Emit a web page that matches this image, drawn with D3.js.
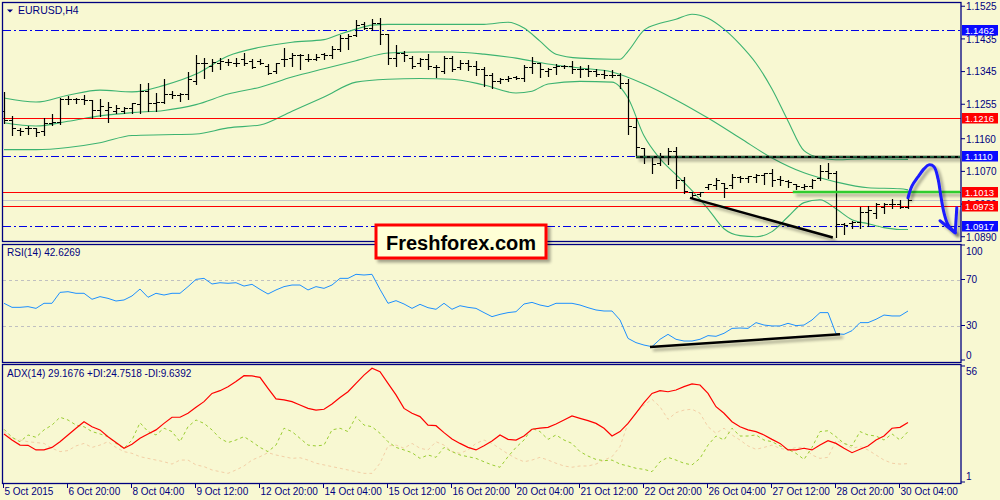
<!DOCTYPE html>
<html>
<head>
<meta charset="utf-8">
<script src="https://cdn.jsdelivr.net/npm/d3@7"></script>
<style>
  body { margin: 0; background: #f8f8d2; }
  svg { display: block; font-family: "Liberation Sans", Arial, sans-serif; }
</style>
</head>
<body>
<svg id="chart" width="1000" height="500"></svg>
<script>
// ---- EURUSD H4 bars (bar 0 = 5 Oct 12:00, one bar per 4 hours) ----
const open = [1.1236,1.1211,1.1184,1.1187,1.1187,1.1181,1.1203,1.1206,1.1269,1.1267,
  1.1269,1.1264,1.1239,1.1239,1.1236,1.1236,1.1242,1.1253,1.1291,1.1256,
  1.1261,1.1283,1.1280,1.1283,1.1319,1.1366,1.1360,1.1368,1.1371,1.1368,
  1.1379,1.1374,1.1374,1.1360,1.1344,1.1379,1.1382,1.1388,1.1379,1.1377,
  1.1393,1.1388,1.1407,1.1437,1.1445,1.1475,1.1465,1.1478,1.1448,1.1382,
  1.1396,1.1382,1.1366,1.1379,1.1355,1.1346,1.1382,1.1355,1.1368,1.1360,
  1.1352,1.1333,1.1319,1.1324,1.1330,1.1327,1.1355,1.1366,1.1346,1.1355,
  1.1360,1.1360,1.1352,1.1352,1.1346,1.1338,1.1335,1.1333,1.1311,1.1192,
  1.1132,1.1107,1.1091,1.1107,1.1126,1.1044,1.1011,1.1006,1.1025,1.1030,
  1.1036,1.1030,1.1052,1.1050,1.1052,1.1058,1.1063,1.1047,1.1041,1.1033,
  1.1025,1.1028,1.1050,1.1071,1.1063,1.0923,1.0926,1.0928,1.0956,1.0953,
  1.0970,1.0980,1.0980,1.0970];
const high = [1.1289,1.1223,1.1189,1.1195,1.1189,1.1217,1.1228,1.1272,1.1278,1.1272,
  1.1280,1.1267,1.1269,1.1261,1.1253,1.1247,1.1258,1.1311,1.1313,1.1286,
  1.1324,1.1291,1.1286,1.1344,1.1390,1.1382,1.1379,1.1382,1.1379,1.1382,
  1.1396,1.1379,1.1379,1.1366,1.1368,1.1410,1.1396,1.1393,1.1393,1.1393,
  1.1396,1.1415,1.1445,1.1448,1.1486,1.1481,1.1489,1.1492,1.1448,1.1418,
  1.1401,1.1388,1.1382,1.1393,1.1363,1.1388,1.1388,1.1377,1.1377,1.1374,
  1.1357,1.1341,1.1327,1.1333,1.1333,1.1363,1.1385,1.1368,1.1355,1.1366,
  1.1363,1.1374,1.1360,1.1363,1.1352,1.1349,1.1349,1.1341,1.1324,1.1217,
  1.1135,1.1107,1.1121,1.1135,1.1137,1.1055,1.1014,1.1014,1.1036,1.1052,
  1.1039,1.1063,1.1058,1.1058,1.1063,1.1066,1.1077,1.1058,1.1047,1.1036,
  1.1036,1.1050,1.1088,1.1093,1.1071,1.0928,1.0934,1.0972,1.0975,1.0983,
  1.0983,1.0994,1.0991,1.1011];
const low = [1.1203,1.1170,1.1170,1.1173,1.1167,1.1170,1.1198,1.1200,1.1256,1.1258,
  1.1256,1.1217,1.1223,1.1206,1.1231,1.1231,1.1231,1.1231,1.1236,1.1236,
  1.1258,1.1272,1.1264,1.1269,1.1311,1.1327,1.1346,1.1352,1.1363,1.1360,
  1.1363,1.1355,1.1366,1.1338,1.1341,1.1360,1.1360,1.1352,1.1374,1.1377,
  1.1379,1.1382,1.1401,1.1407,1.1442,1.1462,1.1459,1.1420,1.1366,1.1360,
  1.1374,1.1355,1.1360,1.1352,1.1330,1.1341,1.1346,1.1352,1.1349,1.1335,
  1.1305,1.1300,1.1313,1.1319,1.1324,1.1319,1.1341,1.1330,1.1333,1.1338,
  1.1355,1.1341,1.1330,1.1333,1.1333,1.1327,1.1330,1.1300,1.1173,1.1113,
  1.1093,1.1066,1.1088,1.1091,1.1025,1.1011,1.0997,1.1003,1.1022,1.1022,
  1.1000,1.1025,1.1041,1.1041,1.1041,1.1036,1.1030,1.1033,1.1028,1.1022,
  1.1022,1.1025,1.1047,1.1052,1.0890,1.0898,1.0915,1.0915,1.0920,1.0942,
  1.0956,1.0970,1.0970,1.0970];
const close = [1.1209,1.1187,1.1181,1.1189,1.1178,1.1203,1.1206,1.1269,1.1267,1.1269,
  1.1264,1.1239,1.1250,1.1247,1.1242,1.1242,1.1256,1.1291,1.1256,1.1261,
  1.1283,1.1280,1.1283,1.1322,1.1366,1.1368,1.1371,1.1374,1.1371,1.1368,
  1.1366,1.1357,1.1366,1.1341,1.1366,1.1377,1.1388,1.1390,1.1377,1.1385,
  1.1388,1.1407,1.1437,1.1442,1.1473,1.1465,1.1478,1.1448,1.1382,1.1396,
  1.1388,1.1360,1.1379,1.1360,1.1357,1.1382,1.1352,1.1368,1.1360,1.1352,
  1.1333,1.1319,1.1324,1.1327,1.1327,1.1355,1.1368,1.1352,1.1352,1.1360,
  1.1360,1.1352,1.1352,1.1344,1.1338,1.1333,1.1335,1.1311,1.1195,1.1135,
  1.1107,1.1088,1.1107,1.1126,1.1044,1.1014,1.1003,1.1011,1.1033,1.1044,
  1.1022,1.1052,1.1050,1.1055,1.1058,1.1063,1.1044,1.1044,1.1039,1.1028,
  1.1028,1.1044,1.1071,1.1063,1.0923,1.0920,1.0928,1.0956,1.0961,1.0978,
  1.0980,1.0978,1.0970,1.0990];

// ---- Bollinger bands at selected bars ----
const upperBars = [0,4,8,12,16,20,24,28,32,36,40,42,44,46,48,52,56,60,63,65,67,69,72,76,77,78,80,82,84,86,88,90,92,94,96,98,100,102,104,108,113];
const upperBand = [1.1272,1.1261,1.1280,1.1294,1.1289,1.1307,1.1338,1.1388,1.1412,1.1426,1.1433,1.1448,1.1462,1.1473,1.1475,1.1475,1.1475,1.1475,1.1481,1.1465,1.1429,1.1393,1.1382,1.1379,1.1379,1.1401,1.1459,1.1478,1.1489,1.1503,1.1492,1.1462,1.1420,1.1368,1.1297,1.1209,1.1127,1.1107,1.1102,1.1105,1.1103];
const midBars = [0,4,8,12,16,20,24,28,32,36,40,44,48,52,56,60,64,68,72,76,80,84,88,92,96,100,104,108,112,113];
const midBand = [1.1204,1.1195,1.1208,1.1223,1.1232,1.1238,1.1254,1.1283,1.1302,1.1330,1.1353,1.1375,1.1396,1.1399,1.1399,1.1393,1.1382,1.1366,1.1355,1.1344,1.1311,1.1267,1.1217,1.1162,1.1107,1.1066,1.1041,1.1025,1.1022,1.1019];
const lowerBars = [0,4,8,12,16,20,24,28,32,36,40,44,48,52,56,60,64,66,68,72,76,78,80,82,84,86,88,90,92,94,96,98,100,102,104,106,108,110,112,113];
const lowerBand = [1.1130,1.1130,1.1136,1.1149,1.1169,1.1171,1.1173,1.1190,1.1198,1.1236,1.1275,1.1316,1.1324,1.1326,1.1324,1.1308,1.1286,1.1291,1.1311,1.1318,1.1316,1.1272,1.1168,1.1105,1.1061,1.1017,1.0967,1.0912,1.0893,1.0890,1.0904,1.0945,1.0984,1.0992,1.0967,1.0937,1.0926,1.0915,1.0910,1.0910];

// ---- RSI(14) ----
const rsi = [49.3,45.8,45.8,46.4,44.9,49.3,49.3,58.8,59.4,58.0,
  58.0,52.8,55.1,53.6,51.3,52.2,55.7,61.7,54.5,58.0,
  56.5,58.0,58.0,63.8,70.1,71.0,66.1,67.2,66.7,67.2,
  64.3,65.8,61.4,57.4,60.9,63.8,65.2,65.2,60.9,63.8,
  62.3,65.2,71.0,71.0,74.5,73.9,74.5,61.4,49.3,51.6,
  48.7,44.9,48.4,45.5,44.1,49.3,44.1,47.2,45.8,44.9,
  41.2,37.7,39.7,41.2,42.0,48.7,50.1,47.8,46.4,49.3,
  49.3,49.3,47.8,45.5,43.5,42.6,42.6,34.8,18.8,15.1,
  13.0,11.6,18.0,22.3,18.0,16.5,16.5,18.0,21.2,20.6,
  23.2,27.5,27.8,27.5,32.5,30.4,29.6,29.6,31.9,29.9,
  30.4,34.8,41.2,41.2,22.9,22.3,25.5,32.5,32.5,35.4,
  39.1,38.3,38.3,42.6];

// ---- ADX(14), +DI, -DI ----
const adx = [23.8,20.9,18.5,18.4,16.2,16.2,17.4,20.1,23.3,26.5,
  29.6,27.2,25.7,22.5,19.7,17.0,18.9,21.7,23.8,25.7,
  28.8,31.7,31.7,33.6,36.4,39.1,43.0,44.3,46.2,48.6,
  51.4,51.3,50.6,45.4,40.4,39.9,39.1,37.5,35.9,35.1,
  35.5,38.0,41.1,43.8,47.8,51.7,54.9,53.3,47.8,42.3,
  35.9,33.6,32.0,28.0,27.7,24.4,21.4,19.3,17.4,16.2,
  18.2,20.4,23.3,21.2,20.9,22.8,26.0,26.5,26.9,28.5,
  30.4,32.3,31.2,30.1,28.8,26.5,22.8,24.9,28.8,33.6,
  38.6,43.0,44.3,43.8,44.6,46.2,47.5,47.0,43.0,36.7,
  33.6,29.6,27.2,25.7,24.9,23.3,21.2,19.3,16.2,16.2,
  17.0,16.2,18.5,20.6,19.3,17.0,14.9,16.5,18.1,20.9,
  22.8,26.5,26.9,29.2];
const plusDI = [26.0,22.2,20.1,23.3,22.2,25.7,28.0,31.7,30.4,28.0,
  27.2,24.9,23.8,22.5,19.3,17.0,20.9,29.1,24.9,23.3,
  26.5,24.9,20.1,27.2,30.4,28.8,25.7,21.7,19.7,20.9,
  22.5,20.1,17.4,15.4,18.5,26.5,24.9,21.7,18.5,18.1,
  18.5,25.7,26.5,24.9,32.0,28.0,27.2,24.1,20.1,17.4,
  16.2,14.9,12.2,13.8,12.7,17.4,15.4,13.8,13.0,12.2,
  10.6,9.1,8.0,13.0,17.4,20.9,26.5,24.9,21.2,23.3,
  20.9,19.3,15.4,13.3,11.7,11.1,11.4,9.5,8.6,7.5,
  7.0,5.9,10.6,12.7,11.4,9.9,9.1,12.2,18.5,22.8,
  20.9,26.5,22.8,22.8,23.3,20.9,20.1,18.1,16.5,14.6,
  11.7,17.4,24.9,25.3,22.5,19.3,18.1,24.9,23.3,22.8,
  20.9,23.8,20.9,24.9];
const minusDI = [24.9,21.7,20.9,20.1,19.7,19.3,17.0,15.4,15.9,18.1,
  19.3,17.4,18.5,20.1,17.4,15.4,14.6,13.0,12.2,11.4,
  10.6,9.5,11.4,11.4,9.1,8.3,6.7,5.9,5.1,6.7,
  8.6,11.4,13.0,14.9,13.8,13.0,12.2,12.5,11.4,9.9,
  9.1,8.3,7.5,6.7,5.9,5.1,5.1,9.9,18.1,18.5,
  17.0,19.3,17.0,16.2,20.1,18.5,15.4,14.6,16.2,19.3,
  20.9,19.3,16.8,14.3,12.2,10.6,11.4,12.7,11.4,9.9,
  8.6,8.0,8.6,8.6,9.5,11.4,13.0,17.8,28.8,33.6,
  37.5,40.2,36.7,30.7,33.9,35.1,35.5,33.6,27.2,24.1,
  26.5,23.3,20.9,18.1,16.5,17.4,18.5,17.0,16.2,17.4,
  17.4,13.8,12.2,12.7,20.6,19.3,17.0,17.8,16.2,13.8,
  11.4,9.9,9.5,9.7];

// ---- axes and levels ----
const timeBars = [0,8,16,24,32,40,48,56,64,72,80,88,96,104,112];
const timeLabels = ["5 Oct 2015","6 Oct 20:00","8 Oct 04:00","9 Oct 12:00","12 Oct 20:00","14 Oct 04:00","15 Oct 12:00","16 Oct 20:00","20 Oct 04:00","21 Oct 12:00","22 Oct 20:00","26 Oct 04:00","27 Oct 12:00","28 Oct 20:00","30 Oct 04:00"];
const priceTicks = [1.1525,1.1435,1.1345,1.1255,1.1160,1.1070,1.0980,1.0890];
const blueLevels = [1.1462,1.1110,1.0917];
const redLevels = [1.1216,1.1013,1.0973];
const rsiLevels = [70,30];
const rsiTicks = [100,70,30,0];
const adxTicks = [56,1];

// hand drawn annotations, in [bar, value]
const trendMain = [[85.75,1.0997],[103.6,1.0888]];
const trendRsi = [[80.75,11.3],[104.5,22.3]];
const blackLevel = [[79,1.1110],[119.5,1.1110]];
const greenLevel = [[98.6,1.1013],[119.5,1.1013]];
const blueCurve = [[113,1.0997],[113.5,1.1030],[114.25,1.1055],[115,1.1077],[115.6,1.1088],[116.25,1.1083],[116.75,1.1050],[117.1,1.1003],[117.5,1.0956],[118,1.0923],[118.9,1.0901]];
const blueHead = [[117,1.0934],[118.9,1.0901],[119.1,1.0970]];

const navy = "#000080";
const L = 3, R = 961;
const mainP = {top: 2, bottom: 241};
const rsiP = {top: 244, bottom: 362};
const adxP = {top: 364, bottom: 483};

const svg = d3.select("#chart");

const x = d3.scaleLinear().domain([-0.5, 119.5]).range([0, 960]);
const yPrice = d3.scaleLinear().domain([1.08755, 1.15367]).range([242, 2]);
const yRsi = d3.scaleLinear().domain([0, 100]).range([360, 245]);
const yAdx = d3.scaleLinear().domain([1, 56]).range([482, 366]);

const defs = svg.append("defs");
const shadow = defs.append("filter").attr("id", "shadow")
    .attr("filterUnits", "userSpaceOnUse")
    .attr("x", 0).attr("y", 0).attr("width", 1000).attr("height", 500);
shadow.append("feGaussianBlur").attr("in", "SourceAlpha").attr("stdDeviation", 1.6).attr("result", "blur");
shadow.append("feOffset").attr("in", "blur").attr("dx", 3).attr("dy", 3).attr("result", "off");
shadow.append("feComponentTransfer").attr("in", "off").attr("result", "soft")
    .append("feFuncA").attr("type", "linear").attr("slope", 0.35);
const merge = shadow.append("feMerge");
merge.append("feMergeNode").attr("in", "soft");
merge.append("feMergeNode").attr("in", "SourceGraphic");

[["clipMain", mainP], ["clipRsi", rsiP], ["clipAdx", adxP]].forEach(([id, p]) => {
    defs.append("clipPath").attr("id", id).append("rect")
        .attr("x", L).attr("y", p.top).attr("width", R - L).attr("height", p.bottom - p.top);
});

svg.append("rect").attr("width", 1000).attr("height", 500).attr("fill", "#f8f8d2");

//Main panel
const gMain = svg.append("g").attr("clip-path", "url(#clipMain)");
// level lines snapped to a pixel row
const hy = v => 2 * Math.round(yPrice(v) / 2) + 0.5;
const by = v => Math.floor(yPrice(v)) + 0.5;

blueLevels.forEach(v => {
    gMain.append("line").attr("x1", L).attr("x2", R).attr("y1", hy(v)).attr("y2", hy(v))
        .attr("stroke", "#0000e6").attr("stroke-width", 1.2).attr("stroke-dasharray", "8,3,2,3")
        .attr("shape-rendering", "crispEdges");
});
// bid line
const bid = close[close.length - 1];
gMain.append("line").attr("x1", L).attr("x2", R).attr("y1", hy(bid)).attr("y2", hy(bid))
    .attr("stroke", "#c8c8c8").attr("shape-rendering", "crispEdges");

const bandLine = d3.line().x(d => x(d[0])).y(d => yPrice(d[1])).curve(d3.curveMonotoneX);
[[upperBars, upperBand], [midBars, midBand], [lowerBars, lowerBand]].forEach(([bars, vals]) => {
    gMain.append("path")
        .attr("d", bandLine(bars.map((b, i) => [b, vals[i]])))
        .attr("fill", "none").attr("stroke", "#3cb371").attr("stroke-width", 1.1);
});

redLevels.forEach(v => {
    gMain.append("line").attr("x1", L).attr("x2", R).attr("y1", hy(v)).attr("y2", hy(v))
        .attr("stroke", "#ff0000").attr("stroke-width", 1.2)
        .attr("shape-rendering", "crispEdges");
});

const bx = i => Math.round(x(i)) + 0.5;
gMain.append("g").selectAll("path")
    .data(d3.range(open.length))
    .enter().append("path")
    .attr("d", i => `M${bx(i)},${Math.round(yPrice(high[i]))}V${Math.round(yPrice(low[i])) + 1}` +
        `M${bx(i) - 3.5},${by(open[i])}H${bx(i)}M${bx(i)},${by(close[i])}H${bx(i) + 3.5}`)
    .attr("fill", "none").attr("stroke", "#000").attr("stroke-width", 1.2);

const seg = d3.line().x(d => x(d[0])).y(d => yPrice(d[1]));
gMain.append("path").attr("d", seg(blackLevel))
    .attr("stroke", "#000").attr("stroke-width", 2.5).attr("filter", "url(#shadow)");
gMain.append("path").attr("d", seg(blackLevel))
    .attr("stroke", "#3cb371").attr("stroke-width", 1).attr("stroke-dasharray", "4,3");
gMain.append("path").attr("d", seg(greenLevel))
    .attr("stroke", "#2ecc2e").attr("stroke-width", 2.5).attr("filter", "url(#shadow)");
gMain.append("path").attr("d", seg(trendMain))
    .attr("stroke", "#000").attr("stroke-width", 2.5).attr("filter", "url(#shadow)");
gMain.append("path").attr("d", d3.line().x(d => x(d[0])).y(d => yPrice(d[1])).curve(d3.curveCatmullRom)(blueCurve))
    .attr("fill", "none").attr("stroke", "#1a1aff").attr("stroke-width", 3)
    .attr("stroke-linecap", "round").attr("filter", "url(#shadow)");
gMain.append("path").attr("d", seg(blueHead))
    .attr("fill", "none").attr("stroke", "#1a1aff").attr("stroke-width", 3)
    .attr("stroke-linecap", "round").attr("stroke-linejoin", "round").attr("filter", "url(#shadow)");

//RSI panel
const gRsi = svg.append("g").attr("clip-path", "url(#clipRsi)");
rsiLevels.forEach(v => {
    gRsi.append("line").attr("x1", L).attr("x2", R)
        .attr("y1", Math.round(yRsi(v)) + 0.5).attr("y2", Math.round(yRsi(v)) + 0.5)
        .attr("stroke", "#c0c0c0").attr("stroke-dasharray", "3,3");
});
gRsi.append("path")
    .attr("d", d3.line().x((d, i) => x(i)).y(d => yRsi(d))(rsi))
    .attr("fill", "none").attr("stroke", "#1e90ff").attr("stroke-width", 1);
gRsi.append("path")
    .attr("d", d3.line().x(d => x(d[0])).y(d => yRsi(d[1]))(trendRsi))
    .attr("stroke", "#000").attr("stroke-width", 2.5).attr("filter", "url(#shadow)");

//ADX panel
const gAdx = svg.append("g").attr("clip-path", "url(#clipAdx)");
const adxLine = d3.line().x((d, i) => x(i)).y(d => yAdx(d));
gAdx.append("path").attr("d", adxLine(minusDI))
    .attr("fill", "none").attr("stroke", "#f3cfa6").attr("stroke-width", 1).attr("stroke-dasharray", "3,3");
gAdx.append("path").attr("d", adxLine(plusDI))
    .attr("fill", "none").attr("stroke", "#9acd32").attr("stroke-width", 1).attr("stroke-dasharray", "3,3");
gAdx.append("path").attr("d", adxLine(adx))
    .attr("fill", "none").attr("stroke", "#ff0000").attr("stroke-width", 1.2);

//Frames
[mainP, rsiP, adxP].forEach(p => {
    svg.append("rect").attr("x", L - 0.5).attr("y", p.top + 0.5)
        .attr("width", R - L + 0.5).attr("height", p.bottom - p.top)
        .attr("fill", "none").attr("stroke", navy).attr("stroke-width", 1.3);
});

//Price axis
const axisG = svg.append("g").attr("font-size", 10).attr("fill", navy);
priceTicks.forEach(v => {
    const yy = yPrice(v);
    axisG.append("line").attr("x1", R).attr("x2", R + 4).attr("y1", yy).attr("y2", yy).attr("stroke", navy);
    axisG.append("text").attr("x", R + 5).attr("y", yy).attr("dy", "0.38em").text(v.toFixed(4));
});
const levelBox = (v, color) => {
    const yy = hy(v);
    axisG.append("rect").attr("x", R + 1).attr("y", yy - 5.5).attr("width", 36).attr("height", 10.5).attr("fill", color);
    axisG.append("text").attr("x", R + 4).attr("y", yy).attr("dy", "0.33em").attr("font-size", 9.5)
        .attr("fill", "#fff").text(v.toFixed(4));
};
blueLevels.forEach(v => levelBox(v, "#0a0aff"));
redLevels.forEach(v => levelBox(v, "#ff0000"));

const clampY = (yy, p) => Math.max(p.top + 7, Math.min(p.bottom - 7, yy));
rsiTicks.forEach(v => {
    const yy = yRsi(v);
    axisG.append("line").attr("x1", R).attr("x2", R + 4).attr("y1", yy).attr("y2", yy).attr("stroke", navy);
    axisG.append("text").attr("x", R + 5).attr("y", clampY(yy, rsiP)).attr("dy", "0.35em").text(v);
});
adxTicks.forEach(v => {
    const yy = yAdx(v);
    axisG.append("line").attr("x1", R).attr("x2", R + 4).attr("y1", yy).attr("y2", yy).attr("stroke", navy);
    axisG.append("text").attr("x", R + 5).attr("y", clampY(yy, adxP)).attr("dy", "0.35em").text(v);
});

//Time axis
timeBars.forEach((b, i) => {
    const xx = Math.round(x(b)) - 0.5;
    axisG.append("line").attr("x1", xx).attr("x2", xx).attr("y1", adxP.bottom).attr("y2", adxP.bottom + 5).attr("stroke", navy);
    axisG.append("text").attr("x", xx + 1).attr("y", 495).text(timeLabels[i]);
});

//Panel titles
svg.append("path").attr("d", "M7,9.5H13L10,12.5Z").attr("fill", navy);
svg.append("text").attr("x", 18).attr("y", 14).attr("font-size", 10.5).attr("fill", navy).text("EURUSD,H4");
svg.append("text").attr("x", 7).attr("y", 256).attr("font-size", 10).attr("fill", navy).text("RSI(14) 42.6269");
svg.append("text").attr("x", 7).attr("y", 377).attr("font-size", 10).attr("fill", navy)
    .text("ADX(14) 29.1676 +DI:24.7518 -DI:9.6392");

//Logo
const logo = svg.append("g").attr("filter", "url(#shadow)");
logo.append("rect").attr("x", 376).attr("y", 225).attr("width", 170).attr("height", 33)
    .attr("fill", "#ffffd6").attr("stroke", "#ff0000").attr("stroke-width", 3);
svg.append("text").attr("x", 461).attr("y", 250).attr("text-anchor", "middle")
    .attr("font-size", 20).attr("font-weight", "bold").attr("fill", "#000").text("Freshforex.com");
</script>
</body>
</html>
